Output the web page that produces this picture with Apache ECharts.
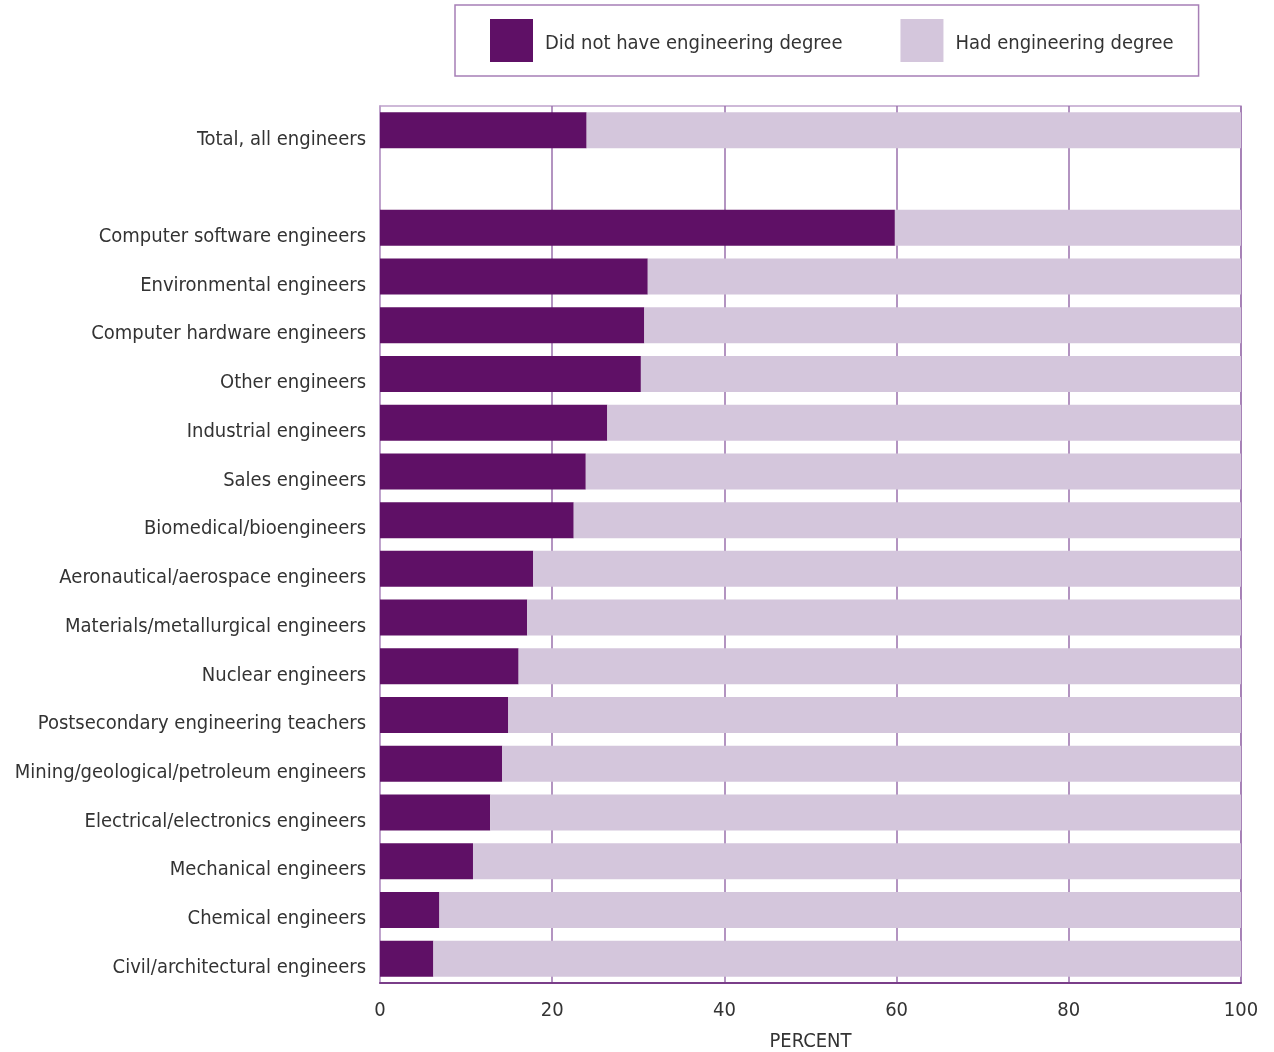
<!DOCTYPE html>
<html>
<head>
<meta charset="utf-8">
<script src="https://cdn.jsdelivr.net/npm/echarts@6/dist/echarts.min.js"></script>
<style>
html,body{margin:0;padding:0;background:#fff;}
#chart{width:1274px;height:1052px;}
</style>
</head>
<body>
<div id="chart"></div>
<script>
const categories = [
  "Total, all engineers",
  "",
  "Computer software engineers",
  "Environmental engineers",
  "Computer hardware engineers",
  "Other engineers",
  "Industrial engineers",
  "Sales engineers",
  "Biomedical/bioengineers",
  "Aeronautical/aerospace engineers",
  "Materials/metallurgical engineers",
  "Nuclear engineers",
  "Postsecondary engineering teachers",
  "Mining/geological/petroleum engineers",
  "Electrical/electronics engineers",
  "Mechanical engineers",
  "Chemical engineers",
  "Civil/architectural engineers"
];
const noDegree = [24.0, null, 59.8, 31.1, 30.7, 30.3, 26.4, 23.9, 22.5, 17.8, 17.1, 16.1, 14.9, 14.2, 12.8, 10.8, 6.9, 6.2];
const hadDegree = noDegree.map(v => v == null ? null : +(100 - v).toFixed(1));
const xTicks = [0, 20, 40, 60, 80, 100];
const seriesNames = ["Did not have engineering degree", "Had engineering degree"];

const FONT = '"DejaVu Sans Condensed","Liberation Sans Narrow","Liberation Sans",sans-serif';
const chart = echarts.init(document.getElementById('chart'), null, {renderer: 'canvas'});
chart.setOption({
  animation: false,
  backgroundColor: '#ffffff',
  textStyle: {fontFamily: FONT},
  legend: {
    left: 455, top: 5,
    padding: [14, 25, 14, 35],
    borderColor: '#A77FB6', borderWidth: 1.5,
    itemWidth: 43, itemHeight: 43, itemGap: 58,
    icon: 'rect',
    formatter: '{a|{name}}',
    textStyle: {fontFamily: FONT, fontSize: 20, color: '#333',
      rich: {a: {fontFamily: FONT, fontSize: 20, color: '#333', padding: [7, 0, 0, 7]}}},
    data: seriesNames
  },
  grid: {
    left: 380, right: 33, top: 106, bottom: 69,
    show: true, borderColor: '#BFA3CC', borderWidth: 1.5,
    containLabel: false,
    outerBoundsMode: 'none'
  },
  xAxis: {
    type: 'value', min: 0, max: 100, interval: 20,
    name: 'PERCENT', nameLocation: 'middle', nameGap: 49,
    nameTextStyle: {fontFamily: FONT, fontSize: 20, color: '#333'},
    axisLine: {show: true, lineStyle: {color: '#7A3E89', width: 2}},
    axisTick: {show: false},
    axisLabel: {fontFamily: FONT, fontSize: 20, color: '#333', margin: 18,
      formatter: v => xTicks.includes(v) ? String(v) : ''},
    splitLine: {show: true, showMinLine: false, showMaxLine: true, lineStyle: {color: '#9A70AC', width: 1.5}}
  },
  yAxis: {
    type: 'category', data: categories, inverse: true,
    axisLine: {show: true, lineStyle: {color: '#BA9DC8', width: 1.5}},
    axisTick: {show: false},
    axisLabel: {fontFamily: FONT, fontSize: 20, color: '#333', margin: 14,
      formatter: v => v ? '{a|' + v + '}' : '',
      rich: {a: {fontFamily: FONT, fontSize: 20, color: '#333', padding: [18, 0, 0, 0]}}}
  },
  series: [
    {name: seriesNames[0], type: 'bar', stack: 'a', data: noDegree, barWidth: 36,
     itemStyle: {color: '#5F1066'}},
    {name: seriesNames[1], type: 'bar', stack: 'a', data: hadDegree, barWidth: 36,
     itemStyle: {color: '#D4C6DC'}}
  ]
});
</script>
</body>
</html>
